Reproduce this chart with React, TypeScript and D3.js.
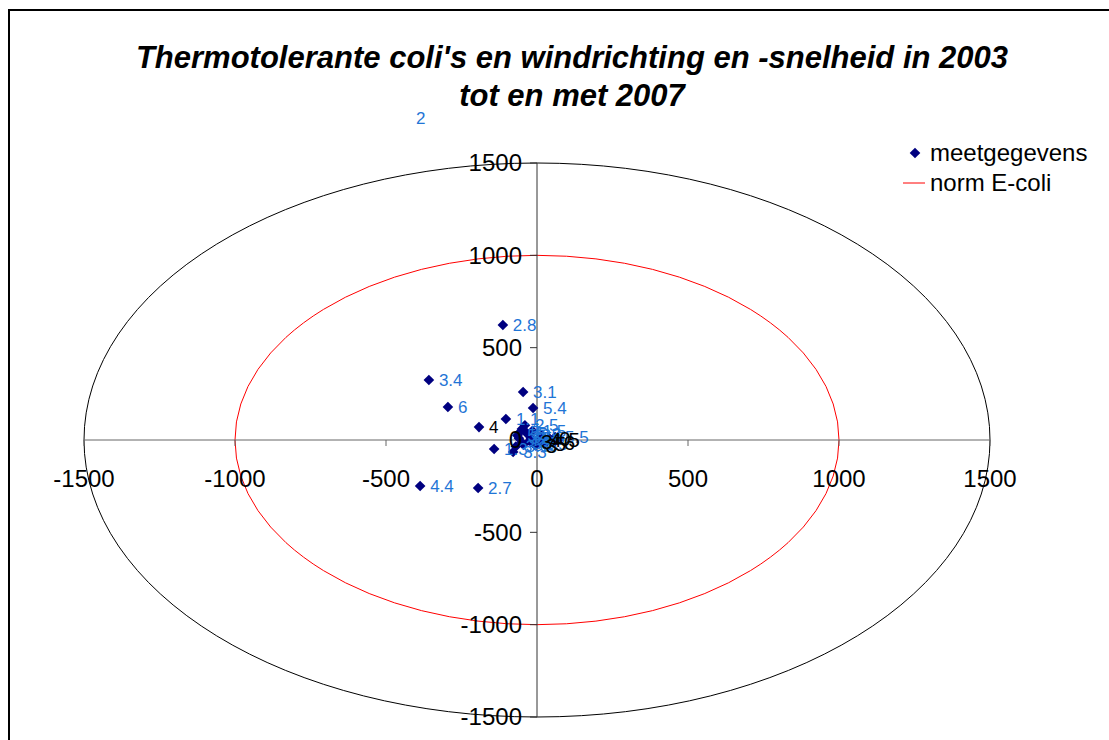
import React from 'react';
import * as d3 from 'd3';

// meetgegevens: x/y position and data label
const pointX = [-434, -113, -358, -295, -192, -103, -46, -13, -387, -195, -142, -79,
  -40, -55, -30, -60, -20, -10, -45, 15, 60,
  -50, -35, -65, -25, -50, -15, -70,
  -20, -5, 10, 25, 40, 55, 70];
const pointY = [1743, 623, 325, 179, 70, 114, 260, 173, -249, -260, -49, -65,
  80, 45, 30, 10, 10, -20, -25, 25, 16,
  60, 40, 25, -5, -15, 50, -35,
  -10, -30, 0, -20, 10, -15, 0];
const pointLabels = ['2', '2.8', '3.4', '6', '4', '1.1', '3.1', '5.4', '4.4', '2.7', '1.3', '3.3',
  '2.5', '5', '5.3', '3.5', '2.5', '1.5', '5.5', '5', '5.5',
  '1', '5', '5.2', '2', '3.5', '1.5', '3.3',
  '3', '3', '4', '5', '0', '6', '5'];
// labels drawn in black instead of blue
const blackLabelIdx = [4, 28, 29, 30, 31, 32, 33, 34];

const ticks = [-1500, -1000, -500, 0, 500, 1000, 1500];
const outerRadius = 1500;
const normRadius = 1000;

const titleLines = ["Thermotolerante coli's en windrichting en -snelheid in 2003", 'tot en met 2007'];

export default function App() {
  const width = 1109;
  const height = 740;
  const font = 'Arial, "Liberation Sans", sans-serif';

  const x = d3.scaleLinear().domain([-1500, 1500]).range([84, 990]);
  const y = d3.scaleLinear().domain([-1500, 1500]).range([717, 163]);

  const cx = x(0);
  const cy = y(0);
  const diamond = d3.symbol().type(d3.symbolDiamond2).size(72)();

  return (
    <svg width={width} height={height} style={{ position: 'absolute', left: 0, top: 0, background: '#fff' }}>
      <defs>
        <clipPath id="plot">
          <rect x={x(-1500)} y={y(1500)} width={x(1500) - x(-1500)} height={y(-1500) - y(1500)} />
        </clipPath>
      </defs>
      <rect x={9} y={10} width={1200} height={800} fill="none" stroke="#000" strokeWidth={2} />

      {titleLines.map((t, i) => (
        <text key={t} x={572} y={68 + i * 38} textAnchor="middle" fontFamily={font}
          fontSize={31} fontWeight="bold" fontStyle="italic" fill="#000">{t}</text>
      ))}

      {/* ellipses */}
      <ellipse cx={cx} cy={cy} rx={x(outerRadius) - cx} ry={cy - y(outerRadius)} fill="none" stroke="#000" strokeWidth={1} />
      <ellipse cx={cx} cy={cy} rx={x(normRadius) - cx} ry={cy - y(normRadius)} fill="none" stroke="#ff0000" strokeWidth={1} />

      {/* axes */}
      <line x1={x(-1500)} x2={x(1500)} y1={cy} y2={cy} stroke="#666" strokeWidth={1} />
      <line x1={cx} x2={cx} y1={y(1500)} y2={y(-1500)} stroke="#333" strokeWidth={1} />
      {ticks.map(t => (
        <line key={'xt' + t} x1={x(t)} x2={x(t)} y1={cy} y2={cy + 6} stroke="#666" />
      ))}
      {ticks.map(t => (
        <line key={'yt' + t} x1={cx - 7} x2={cx} y1={y(t)} y2={y(t)} stroke="#333" />
      ))}

      {/* points */}
      <g clipPath="url(#plot)">
        {pointX.map((v, i) => (
          <path key={'p' + i} d={diamond!} transform={`translate(${x(v)},${y(pointY[i])})`} fill="#000080" />
        ))}
      </g>
      {pointX.map((v, i) => {
        const black = blackLabelIdx.includes(i);
        return (
          <text key={'l' + i} x={x(v) + 10} y={y(pointY[i])} dy="0.35em" fontFamily={font}
            fontSize={black && i !== 4 ? 21 : 17}
            fill={black ? '#000' : '#1f75d6'}>{pointLabels[i]}</text>
        );
      })}

      {/* tick labels on top of the data */}
      {ticks.map(t => (
        <text key={'xl' + t} x={x(t)} y={487} textAnchor="middle" fontFamily={font} fontSize={24} fill="#000">{t}</text>
      ))}
      {ticks.map(t => (
        <text key={'yl' + t} x={cx - 15} y={y(t)} dy="0.35em" textAnchor="end" fontFamily={font} fontSize={24} fill="#000">{t}</text>
      ))}

      {/* legend */}
      <path d={diamond!} transform="translate(915,153)" fill="#000080" />
      <text x={930} y={153} dy="0.35em" fontFamily={font} fontSize={24} fill="#000">meetgegevens</text>
      <line x1={903} x2={925} y1={183} y2={183} stroke="#ff0000" strokeWidth={1} />
      <text x={930} y={183} dy="0.35em" fontFamily={font} fontSize={24} fill="#000">norm E-coli</text>
    </svg>
  );
}
